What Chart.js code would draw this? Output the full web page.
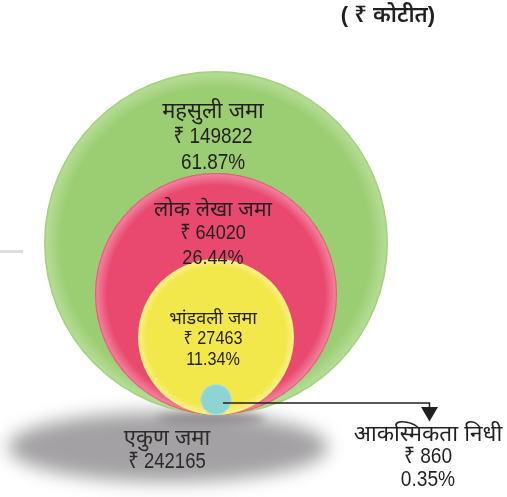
<!DOCTYPE html>
<html>
<head>
<meta charset="utf-8">
<script src="https://cdn.jsdelivr.net/npm/chart.js@4.4.1/dist/chart.umd.min.js"></script>
<style>
  html, body { margin: 0; padding: 0; background: #fff; }
  #wrap { position: relative; width: 507px; height: 497px; }
</style>
</head>
<body>
<div id="wrap"><canvas id="depositChart" width="507" height="497"></canvas></div>
<script>
// data (₹ crore)
const labels = ['महसुली जमा', 'लोक लेखा जमा', 'भांडवली जमा', 'आकस्मिकता निधी'];
const amounts = [149822, 64020, 27463, 860];
const shares = [61.87, 26.44, 11.34, 0.35];
const totalLabel = 'एकुण जमा';
const totalAmount = 242165;
const unitLabel = '( ₹ कोटीत)';

// look
const colors = ['#9bcd73', '#e9496f', '#f3e84b', '#8ed4d2'];
const rims = ['#b4dc94', '#f27e9c', '#f8f08a', '#b4e4e2'];
const radii = [172, 121, 78, 15.5];   // px
const baseline = 82;                   // y value where all circles sit
const FONT = "'Liberation Sans', 'Noto Sans', sans-serif";

const rupee = n => '₹ ' + n;
const pct = n => n.toFixed(2) + '%';

function fillFor(c) {
  const i = c.dataIndex;
  const chart = c.chart;
  if (!chart.chartArea || !c.raw) return colors[i];
  const x = chart.scales.x.getPixelForValue(c.raw.x);
  const y = chart.scales.y.getPixelForValue(c.raw.y);
  const r = radii[i];
  const g = chart.ctx.createRadialGradient(x, y, 0, x, y, r);
  g.addColorStop(0, colors[i]);
  g.addColorStop(0.9, colors[i]);
  g.addColorStop(0.985, rims[i]);
  g.addColorStop(1, colors[i]);
  return g;
}

// condensed-looking text: squeeze horizontally
function text(ctx, t, x, y, size, squeeze) {
  ctx.save();
  ctx.font = size + 'px ' + FONT;
  ctx.translate(x, y);
  ctx.scale(squeeze || 1, 1);
  ctx.fillText(t, 0, 0);
  ctx.restore();
}

const shadowPlugin = {
  id: 'shadow',
  beforeDatasetsDraw(chart) {
    const el = chart.getDatasetMeta(0).data[0];
    const y0 = chart.scales.y.getPixelForValue(baseline);
    const ctx = chart.ctx;
    ctx.save();
    ctx.filter = 'blur(9px)';
    ctx.fillStyle = '#a3a1a3';
    ctx.beginPath();
    ctx.ellipse(el.x - 48, y0 + 32, 160, 35, 0, 0, Math.PI * 2);
    ctx.fill();
    ctx.filter = 'blur(4px)';
    ctx.fillStyle = '#908e90';
    ctx.beginPath();
    ctx.ellipse(el.x - 5, y0 + 4, 55, 6, 0, 0, Math.PI * 2);
    ctx.fill();
    ctx.restore();

    // small grey tick at left edge
    ctx.save();
    ctx.fillStyle = '#dedede';
    ctx.fillRect(0, 250, 23, 3);
    ctx.restore();
  }
};

const labelPlugin = {
  id: 'labels',
  afterDatasetsDraw(chart) {
    const ctx = chart.ctx;
    const pts = chart.getDatasetMeta(0).data;
    const y0 = chart.scales.y.getPixelForValue(baseline);
    ctx.save();
    ctx.textAlign = 'center';
    ctx.textBaseline = 'middle';
    ctx.fillStyle = '#231f20';

    // labels inside the three big circles
    const first = [-132, -85, -19];
    const step = [26, 24.5, 21];
    const size = [22, 21, 18];
    const sq = [0.86, 0.86, 0.9];
    for (let i = 0; i < 3; i++) {
      const p = pts[i], cx = p.x - 3, top = p.y + first[i];
      text(ctx, labels[i], cx, top + 1, size[i]);
      text(ctx, rupee(amounts[i]), cx, top + step[i], size[i], sq[i]);
      text(ctx, pct(shares[i]), cx, top + 2 * step[i], size[i], sq[i]);
    }

    // connector to the small circle's label
    const s = pts[3];
    const ax = 429.5;
    ctx.strokeStyle = '#231f20';
    ctx.lineWidth = 1.5;
    ctx.beginPath();
    ctx.moveTo(s.x + 7, s.y + 3.5);
    ctx.lineTo(ax, s.y + 3.5);
    ctx.lineTo(ax, s.y + 9);
    ctx.stroke();
    ctx.beginPath();
    ctx.moveTo(ax - 8.5, s.y + 7.5);
    ctx.lineTo(ax + 8.5, s.y + 7.5);
    ctx.lineTo(ax, s.y + 22);
    ctx.closePath();
    ctx.fill();

    text(ctx, labels[3], 428, y0 + 20, 22.5);
    text(ctx, rupee(amounts[3]), 428, y0 + 42, 22, 0.87);
    text(ctx, pct(shares[3]), 428, y0 + 65, 22, 0.87);

    // total under the shadow
    ctx.fillStyle = '#2c2a2b';
    text(ctx, totalLabel, 167, y0 + 24, 22);
    text(ctx, rupee(totalAmount), 167, y0 + 47, 22, 0.84);

    // unit
    ctx.fillStyle = '#231f20';
    ctx.font = '600 22px ' + FONT;
    ctx.fillText(unitLabel, 388, 16);
    ctx.restore();
  }
};

new Chart(document.getElementById('depositChart'), {
  type: 'bubble',
  data: {
    labels: labels,
    datasets: [{
      data: amounts.map((v, i) => ({ x: 0, y: baseline + radii[i], r: radii[i], v: v })),
      backgroundColor: fillFor,
      borderWidth: 0,
      hoverRadius: 0
    }]
  },
  options: {
    responsive: false,
    animation: false,
    events: [],
    layout: { padding: 0, autoPadding: false },
    clip: false,
    plugins: { legend: { display: false }, tooltip: { enabled: false } },
    scales: {
      x: { display: false, min: -216, max: 291 },
      y: { display: false, min: 0, max: 497 }
    }
  },
  plugins: [shadowPlugin, labelPlugin]
});
</script>
</body>
</html>
